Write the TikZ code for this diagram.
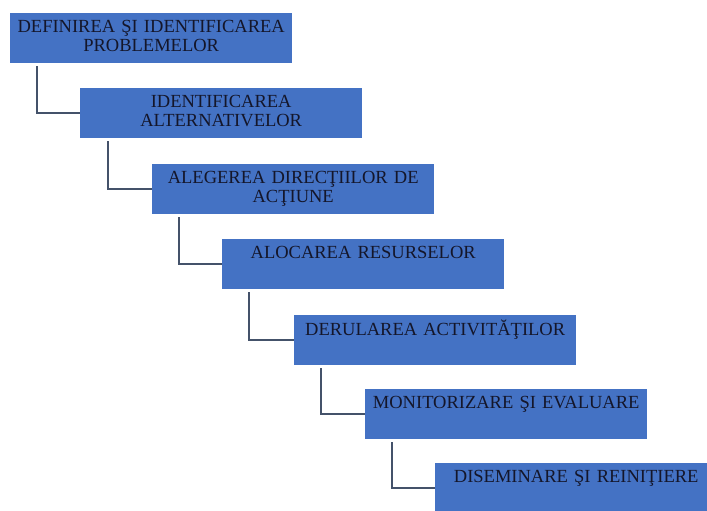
\documentclass[tikz,border=0pt]{standalone}
\usepackage{fontspec}
\setmainfont{Liberation Serif}
\usepackage{xcolor}
\usepackage{tikz}

\definecolor{boxblue}{HTML}{4472C4}
\definecolor{boxtext}{HTML}{14162A}
\definecolor{linkgray}{HTML}{44526A}

\begin{document}
\begin{tikzpicture}[x=1pt,y=-1pt,
	stepbox/.style={anchor=north west, fill=boxblue, text=boxtext, minimum width=282pt, minimum height=50pt, inner sep=0pt, text width=280pt, align=center, font=\fontsize{18.5}{19}\selectfont},
	link/.style={draw=linkgray, line width=2pt}]
			\clip (0,0) rectangle (707,511);
			\node[stepbox] (b1) at (10,13) {\strut DEFINIREA ŞI IDENTIFICAREA\\\strut PROBLEMELOR};
			\node[stepbox] (b2) at (80,88) {\strut IDENTIFICAREA\\\strut ALTERNATIVELOR};
			\node[stepbox] (b3) at (152,164) {\strut ALEGEREA DIRECŢIILOR DE\\\strut ACŢIUNE};
			\node[stepbox] (b4) at (222,239) {\strut ALOCAREA RESURSELOR\\\strut};
			\node[stepbox] (b5) at (294,315) {\strut DERULAREA ACTIVITĂŢILOR\\\strut};
			\node[stepbox] (b6) at (365,389) {\strut MONITORIZARE ŞI EVALUARE\\\strut};
			\node[stepbox] (b7) at (435,463) {\strut DISEMINARE ŞI REINIŢIERE\\\strut};
			\draw[link] ([xshift=27pt,yshift=-3pt]b1.south west) |- (b2.west);
			\draw[link] ([xshift=28pt,yshift=-3pt]b2.south west) |- (b3.west);
			\draw[link] ([xshift=27pt,yshift=-3pt]b3.south west) |- (b4.west);
			\draw[link] ([xshift=27pt,yshift=-3pt]b4.south west) |- (b5.west);
			\draw[link] ([xshift=27pt,yshift=-3pt]b5.south west) |- (b6.west);
			\draw[link] ([xshift=27pt,yshift=-3pt]b6.south west) |- (b7.west);
		\end{tikzpicture}
\end{document}
